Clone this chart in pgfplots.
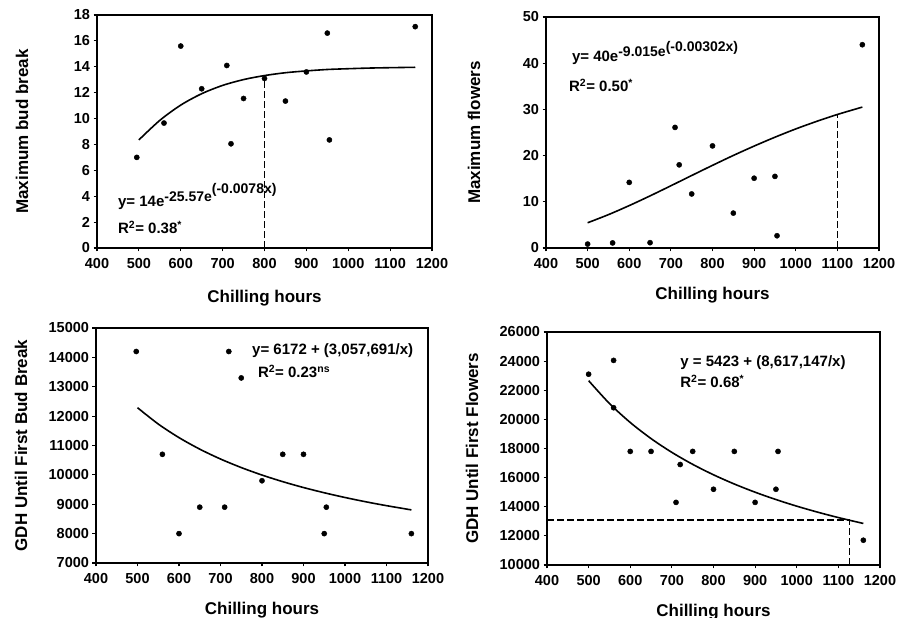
\documentclass[border=0pt]{standalone}
\usepackage{fontspec}
\setmainfont{Liberation Sans}
\usepackage{pgfplots}
\pgfplotsset{compat=1.18}

\pgfplotsset{
  panel/.style={
    scale only axis,
    anchor=south west,
    xmin=400, xmax=1200,
    xtick={400,500,...,1200},
    scaled ticks=false,
    axis line style={line width=1.8pt},
    tick style={line width=1.2pt, black},
    major tick length=3.5pt,
    tick align=outside,
    tick pos=left,
    ticklabel style={font=\fontsize{14.5}{16}\selectfont\bfseries},
    xticklabel style={yshift=-3pt},
    /pgf/number format/assume math mode=true,
    /pgf/number format/1000 sep={},
    label style={font=\fontsize{17}{19}\selectfont\bfseries},
    xlabel={Chilling hours},
  },
  pts/.style={only marks, mark=*, mark size=2.6pt, black},
  fit/.style={no marks, black, line width=1.6pt, smooth},
  ref/.style={no marks, black, line width=1.4pt, dash pattern=on 7pt off 3pt},
}
\tikzset{eq/.style={anchor=base west, inner sep=0pt, font=\fontsize{15}{17}\selectfont\bfseries}}
\newcommand{\up}[2]{\raisebox{#1}{\fontsize{14}{16}\selectfont #2}}

\begin{document}
\begin{tikzpicture}
\useasboundingbox (0,0) rectangle (897pt,618pt);

% top left: maximum bud break
\begin{axis}[panel, at={(97pt,370pt)}, width=335pt, height=233pt,
  ymin=0, ymax=18, ytick={0,2,...,18},
  ylabel={Maximum bud break},
  ylabel style={at={(axis description cs:-0.224,0.5)}, anchor=center},
  xlabel style={at={(axis description cs:0.5,-0.232)}, anchor=base}]
\addplot[pts] coordinates {
  (495,7.0) (560,9.65) (600,15.6) (650,12.3) (710,14.1) (720,8.05)
  (750,11.55) (800,13.1) (850,11.35) (900,13.6) (950,16.6) (955,8.35) (1160,17.1)};
\addplot[fit] coordinates {
  (500,8.35) (550,9.86) (600,11.04) (650,11.92) (700,12.56) (750,13.01)
  (800,13.32) (850,13.54) (900,13.68) (950,13.79) (1000,13.85) (1050,13.90)
  (1100,13.93) (1160,13.96)};
\addplot[ref] coordinates {(800,0) (800,13.32)};
\node[eq] at (axis cs:450,3.17) {y= 14e\up{0.7ex}{-25.57e\up{1.1ex}{(-0.0078x)}}};
\node[eq] at (axis cs:450,1.1) {R\textsuperscript{2}= 0.38\textsuperscript{*}};
\end{axis}

% top right: maximum flowers
\begin{axis}[panel, at={(546pt,370pt)}, width=333pt, height=231pt,
  ymin=0, ymax=50, ytick={0,10,...,50},
  ylabel={Maximum flowers},
  ylabel style={at={(axis description cs:-0.216,0.5)}, anchor=center},
  xlabel style={at={(axis description cs:0.5,-0.225)}, anchor=base}]
\addplot[pts] coordinates {
  (500,0.85) (560,1.1) (600,14.2) (650,1.15) (710,26.1) (720,18.0)
  (750,11.7) (800,22.1) (850,7.55) (900,15.1) (950,15.5) (955,2.65) (1160,44.0)};
\addplot[fit] coordinates {
  (500,5.46) (550,7.22) (600,9.18) (650,11.28) (700,13.47) (750,15.69)
  (800,17.89) (850,20.03) (900,22.06) (950,23.98) (1000,25.77) (1050,27.40)
  (1100,28.90) (1160,30.50)};
\addplot[ref] coordinates {(1100,0) (1100,28.9)};
\node[eq] at (axis cs:462,40.3) {y= 40e\up{0.7ex}{-9.015e\up{0.7ex}{(-0.00302x)}}};
\node[eq] at (axis cs:455,33.8) {R\textsuperscript{2}= 0.50\textsuperscript{*}};
\end{axis}

% bottom left: GDH until first bud break
\begin{axis}[panel, at={(96pt,55pt)}, width=332pt, height=235pt,
  ymin=7000, ymax=15000, ytick={7000,8000,...,15000},
  ylabel={GDH Until First Bud Break},
  ylabel style={at={(axis description cs:-0.226,0.5)}, anchor=center},
  xlabel style={at={(axis description cs:0.5,-0.221)}, anchor=base}]
\addplot[pts] coordinates {
  (497,14200) (560,10700) (600,8000) (650,8900) (710,8900) (720,14200)
  (750,13300) (800,9800) (850,10700) (900,10700) (950,8000) (955,8900) (1160,8000)};
\addplot[fit] coordinates {
  (500,12287) (550,11731) (600,11268) (650,10876) (700,10540) (750,10249)
  (800,9994) (850,9769) (900,9569) (950,9391) (1000,9230) (1050,9084)
  (1100,8952) (1160,8808)};
\node[eq] at (axis cs:776,14081) {y= 6172 + (3,057,691/x)};
\node[eq] at (axis cs:790,13298) {R\textsuperscript{2}= 0.23\textsuperscript{ns}};
\end{axis}

% bottom right: GDH until first flowers
\begin{axis}[panel, at={(547pt,53pt)}, width=333pt, height=233pt,
  ymin=10000, ymax=26000, ytick={10000,12000,...,26000},
  ylabel={GDH Until First Flowers},
  ylabel style={at={(axis description cs:-0.225,0.5)}, anchor=center},
  xlabel style={at={(axis description cs:0.5,-0.219)}, anchor=base}]
\addplot[pts] coordinates {
  (500,23100) (560,24050) (560,20800) (600,17800) (650,17800) (710,14300)
  (720,16900) (750,17800) (800,15200) (850,17800) (900,14300) (950,15200)
  (955,17800) (1160,11700)};
\addplot[fit] coordinates {
  (500,22657) (550,21090) (600,19785) (650,18680) (700,17733) (750,16912)
  (800,16194) (850,15561) (900,14998) (950,14494) (1000,14040) (1050,13630)
  (1100,13257) (1160,12852)};
\addplot[ref] coordinates {(400,13100) (1127,13100)};
\addplot[ref] coordinates {(1127,10000) (1127,13100)};
\node[eq] at (axis cs:720,23665) {y = 5423 + (8,617,147/x)};
\node[eq] at (axis cs:720,22155) {R\textsuperscript{2}= 0.68\textsuperscript{*}};
\end{axis}
\end{tikzpicture}
\end{document}
